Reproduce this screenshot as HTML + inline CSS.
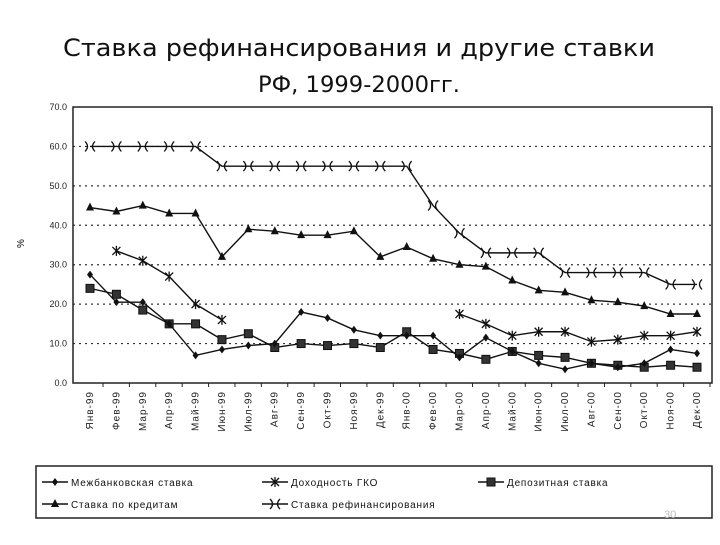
<!DOCTYPE html>
<html><head><meta charset="utf-8"><style>
body{margin:0;background:#fff;width:720px;height:540px;overflow:hidden;font-family:"Liberation Sans",sans-serif}
</style></head><body>
<svg id="c" width="720" height="540" xmlns="http://www.w3.org/2000/svg" font-family="Liberation Sans, sans-serif">
<text x="63" y="56" font-size="24" font-family="DejaVu Sans, sans-serif" textLength="592" lengthAdjust="spacingAndGlyphs" fill="#111">Ставка рефинансирования  и другие ставки</text>
<text x="258" y="92" font-size="22" font-family="DejaVu Sans, sans-serif" textLength="202" lengthAdjust="spacingAndGlyphs" fill="#111">РФ,  1999-2000гг.</text>
<text x="24" y="248" font-size="10" transform="rotate(-90 24 248)">%</text>
<g id="plot"></g>
<rect x="36" y="466" width="676" height="52" fill="none" stroke="#222" stroke-width="1.5"/>
<g id="legend"></g>
<text x="664" y="518" font-size="11" fill="#bbb">30</text>
</svg>
<script>
const months=["Янв-99","Фев-99","Мар-99","Апр-99","Май-99","Июн-99","Июл-99","Авг-99","Сен-99","Окт-99","Ноя-99","Дек-99","Янв-00","Фев-00","Мар-00","Апр-00","Май-00","Июн-00","Июл-00","Авг-00","Сен-00","Окт-00","Ноя-00","Дек-00"];
const yTicks=[0,10,20,30,40,50,60,70];
const interbank=[27.5,20.5,20.5,15,7,8.5,9.5,10,18,16.5,13.5,12,12,12,6.5,11.5,8,5,3.5,5,4,5,8.5,7.5];
const gko=[null,33.5,31,27,20,16,null,null,null,null,null,null,null,null,17.5,15,12,13,13,10.5,11,12,12,13];
const deposit=[24,22.5,18.5,15,15,11,12.5,9,10,9.5,10,9,13,8.5,7.5,6,8,7,6.5,5,4.5,4,4.5,4];
const credit=[44.5,43.5,45,43,43,32,39,38.5,37.5,37.5,38.5,32,34.5,31.5,30,29.5,26,23.5,23,21,20.5,19.5,17.5,17.5];
const refi=[60,60,60,60,60,55,55,55,55,55,55,55,55,45,38,33,33,33,28,28,28,28,25,25];
const NS="http://www.w3.org/2000/svg";
const X0=90,X1=697,Y0=383,Y70=107,L=73,R=712;
const x=i=>X0+i*(X1-X0)/(months.length-1);
const y=v=>Y0-(v/70)*(Y0-Y70);
const plot=document.getElementById('plot'),leg=document.getElementById('legend');
function mk(t,a,p){const e=document.createElementNS(NS,t);for(const k in a)e.setAttribute(k,a[k]);(p||plot).appendChild(e);return e;}
yTicks.forEach(v=>{
 if(v>0&&v<70){const g=mk('line',{x1:L,x2:R,y1:y(v),y2:y(v),stroke:'#333','stroke-width':1.2,'stroke-dasharray':'2 4'});
 
 }
 const t=mk('text',{x:L-6,y:y(v)+3,'text-anchor':'end','font-size':9,fill:'#222'});t.textContent=v.toFixed(1);
 
 
});
const fr=mk('rect',{x:L,y:Y70,width:R-L,height:Y0-Y70,fill:'none',stroke:'#222','stroke-width':1.5});


months.forEach((m,i)=>{
 mk('line',{x1:x(i)+13,x2:x(i)+13,y1:Y0,y2:Y0+4,stroke:'#222'});
 const t=mk('text',{x:x(i)+3,y:Y0+8,'text-anchor':'end','font-size':10,fill:'#222',transform:`rotate(-90 ${x(i)+3} ${Y0+8})`,'letter-spacing':'1'});t.textContent=m;
 
 
});
function marker(type,cx,cy,p){
 const s='#111';
 if(type==='diamond')mk('path',{d:`M${cx} ${cy-4}L${cx+3} ${cy}L${cx} ${cy+4}L${cx-3} ${cy}Z`,fill:s},p);
 else if(type==='star')mk('path',{d:`M${cx-4} ${cy-4}L${cx+4} ${cy+4}M${cx+4} ${cy-4}L${cx-4} ${cy+4}M${cx} ${cy-5}V${cy+5}`,stroke:s,'stroke-width':1.3,fill:'none'},p);
 else if(type==='square')mk('rect',{x:cx-4,y:cy-4,width:8,height:8,fill:'#333',stroke:s},p);
 else if(type==='tri')mk('path',{d:`M${cx} ${cy-5}L${cx+4} ${cy+3}L${cx-4} ${cy+3}Z`,fill:s},p);
 else mk('path',{d:`M${cx-5} ${cy-5}Q${cx} ${cy} ${cx-5} ${cy+5}M${cx+5} ${cy-5}Q${cx} ${cy} ${cx+5} ${cy+5}`,stroke:s,'stroke-width':1.3,fill:'none'},p);
}
function series(data,type,name){
 const g=mk('g',{});
 
 
 let d='',pen=false;
 data.forEach((v,i)=>{if(v==null){pen=false;return;}d+=(pen?'L':'M')+x(i)+' '+y(v);pen=true;});
 mk('path',{d,fill:'none',stroke:'#111','stroke-width':1.4},g);
 data.forEach((v,i)=>{if(v!=null)marker(type,x(i),y(v),g);});
}
series(refi,'x','series-refinancing-rate');
series(credit,'tri','series-credit-rate');
series(gko,'star','series-gko-yield');
series(deposit,'square','series-deposit-rate');
series(interbank,'diamond','series-interbank-rate');
const items=[["Межбанковская ставка",'diamond',42,482],["Доходность ГКО",'star',262,482],["Депозитная ставка",'square',478,482],["Ставка по кредитам",'tri',42,504],["Ставка рефинансирования",'x',262,504]];
items.forEach(it=>{
 const g=mk('g',{},leg);
 
 
 mk('line',{x1:it[2],x2:it[2]+26,y1:it[3],y2:it[3],stroke:'#111','stroke-width':1.4},g);
 marker(it[1],it[2]+13,it[3],g);
 const t=mk('text',{x:it[2]+29,y:it[3]+4,'font-size':10,fill:'#111','letter-spacing':'0.8'},g);t.textContent=it[0];
});
</script>
</body></html>
